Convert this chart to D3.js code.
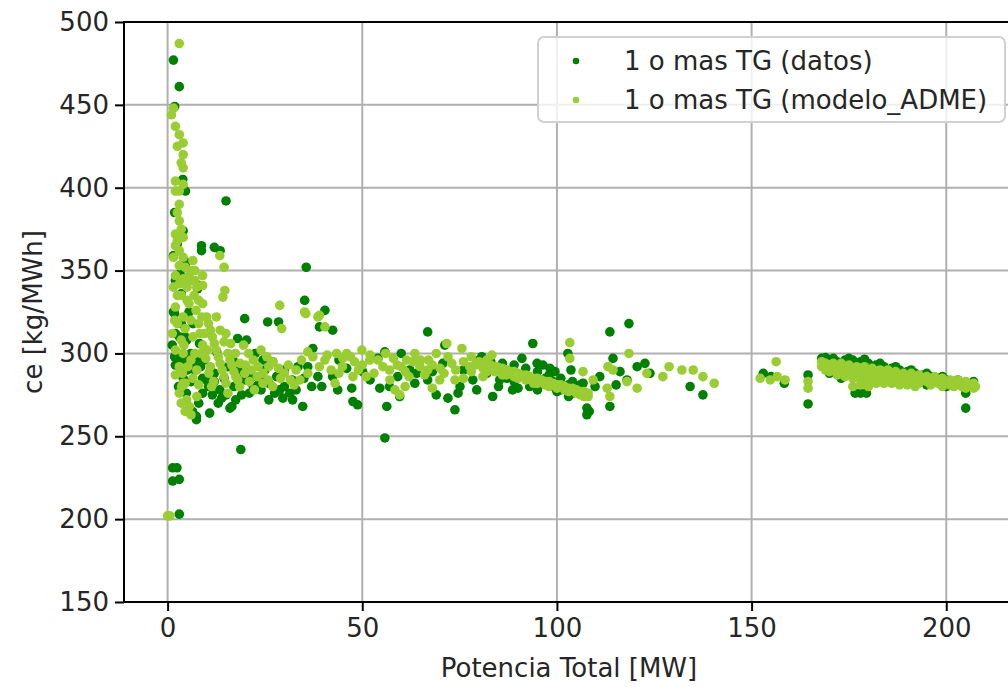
<!DOCTYPE html>
<html>
<head>
<meta charset="utf-8">
<script src="https://cdn.jsdelivr.net/npm/d3@7"></script>
<style>
  html, body { margin: 0; padding: 0; background: #fff; }
  svg { display: block; font-family: "DejaVu Sans", sans-serif; }
</style>
</head>
<body>
<svg id="chart" width="1008" height="687"></svg>
<script>
// Specific consumption vs. total power, gas turbines (1 or more units)
const xTicks = [0, 50, 100, 150, 200];
const yTicks = [150, 200, 250, 300, 350, 400, 450, 500];
const seriesNames = ["1 o mas TG (datos)", "1 o mas TG (modelo_ADME)"];
const seriesColors = ["#008000", "#9acd32"];

// measured points [MW, kg/MWh]
const datos = [
  [1.5,477],[3.0,461],[1.8,449],[3.9,405],[4.6,398],[1.8,385],[4.0,374],[2.5,366],[1.5,359],[4.3,356],
  [4.6,354],[2.0,344],[3.2,348],[5.0,343],[3.5,336],[1.5,325],[3.5,318],[2.0,312],[4.5,310],[1.2,305],
  [2.5,300],[3.0,296],[4.5,298],[2.0,293],[3.5,290],[4.0,285],[2.8,280],[4.8,276],[1.8,298],
  [1.3,231],[2.4,231],[1.3,223],[3.0,224],[3.0,203],
  [8.2,341],[8.7,365],[8.7,362],[12,364],[13.5,362],[15,392],[7.7,339],[19.8,321],[25.7,319],[28.5,319],
  [35.2,332],[35.6,352],[1.8,324],[4.6,296],[6.4,294],[5.5,298],[3.9,290],[9,276],[10,284],[13.4,278],
  [13.9,273],[16,267],[16.5,268],[10.8,264],[6.4,265],[7.4,262],[7.4,260],[21,276],[23.6,282],[21.9,286],
  [18.5,290],[16.8,296],[12.6,301],[8.2,306],[4.9,308],[18,309],[20.3,308],[28,286],[28.8,278],[29.6,273],
  [31.4,276],[32.1,272],[34.7,268],[18.8,242],[11,290],[12,288],[14.5,285],[15.5,292],[17,280],[19,275],
  [20,284],[24,278],[25,290],[26,272],[9.5,296],[7,290],[6,283],[8,270],[11.5,275],[22.5,300],
  [24.5,296],[27,295],[30,290],[32,284],[33.5,292],
  [5.5,325],[6.5,318],[3,310],[5,290],[6,300],[7.5,297],[8.5,292],[9,285],[10.5,280],[12,283],
  [13,270],[15,275],[17.5,272],[18,285],[20,290],[22,280],[24,285],[26,282],[27.5,276],[30,280],
  [33,278],[35,285],[36,292],
  [39,316],[40.4,326],[42.4,314],[37.3,303],[37,280],[38.6,286],[39.6,280],[42.4,286],[43.7,278],[47.3,279],
  [47.6,271],[48.8,269],[50.1,289],[54,297],[54.5,279],[55.8,301],[56.3,268],[55.8,249],[59.1,286],[59.6,274],
  [62.2,290],[63.5,282],[66.8,313],[66.8,284],[70.7,294],[71.2,305],[72,273],[73.8,266],[74.6,276],[75.1,280],
  [78.4,284],[79.4,278],[80.7,298],[83.5,274],[85.3,284],[87.1,285],[88.6,278],[91,297],[93,280],[93.8,306],
  [94.9,294],[96.4,293],[98.2,291],[99.5,289],
  [44,296],[46,291],[52,284],[57,280],[60,300],[64,288],[68,289],[69,275],[76,290],[82,288],
  [89,283],[92,286],[96,283],[99,280],[101,278],[103,274],
  [80,296],[83,295],[86,294],[89,293],[92,291],[95,289],[98,287],[101,285],[104,283],[106,281],
  [85,280],[90,279],[95,278],[100,277],[104,276],[107,275],[102.8,300],[103.6,290],[106.7,282],
  [82,290],[88,288],[93,285],[97,285],[99,283],[103,281],[105,279],
  [107.7,267],[107.7,263],[108.3,265],[109.8,280],[113.6,313],[118.5,318],[113.6,268],[114.4,297],[116.2,289],
  [120.6,292],[122.6,294],[123.9,288],[118,284],[115.2,281],[134.2,280],[137.5,275],[111,286],
  [153,288],[155,286],[158.4,282],[164.5,287],[164.5,269.5],
  [168,297],[170,296],[172,295],[174,296],[176,296],[178,295],[180,294],[182,293],[184,292],[186,291],
  [188,290],[190,289],[192,288],[194,287],[196,286],[198,285],[200,284],[202,283],[204,282],[206,281],
  [207,280],[170,288],[173,285],[176.6,276],[178,276],[179.5,276],[185,284],[190,283],[195,281],[200,280],
  [205,267],[205,276],[207,283],
  [169,297.5],[171,297],[175,297],[179,296.5],[183,294],[187,292],[191,290],[195,288],[199,286],[203,284]
];

// model points [MW, kg/MWh]
const modelo = [
  [3,487],[1.5,448],[1,444],[2,437],[3,432],[4,427],[4,420],[4,412],[2,404],[2,398],
  [4,402],[3,390],[3,380],[2,372],[4,370],[2.5,368],[3,362],[1.5,358],[3,353],[2,347],
  [4,345],[1.5,340],[3.5,335],[5,332],[2,328],[4,322],[2.5,318],[1.2,312],[3.5,308],[2,302],
  [4,300],[3,292],[2,287],[4,282],[3,276],[3.5,270],[4.5,265],[0,202],[0.6,202],
  [3.6,280],[4.9,272],[5.6,268],[6,263],[3.8,288],[4.5,282],
  [2.5,425],[3.5,415],[3,398],[2.5,385],[3.5,375],[2,365],[4,358],[3,342],[2.5,335],[1.8,320],[4.5,315],
  [5,340],[5.5,330],[6,320],[6.5,310],[7,300],[7.5,290],[8,281],
  [7,350],[7.5,340],[8,332],[8.8,322],[9.5,312],[10.2,302],[11,292],[11.8,283],
  [9,330],[10,322],[11,314],[12,306],[13,298],[14,290],[15,282],[15.5,276],
  [12.5,322],[13.5,314],[14.5,307],[15.5,300],[16.5,293],[17.5,286],[18.5,280],
  [15,312],[16.2,306],[17.4,300],[18.6,294],[19.8,288],[21,283],[22.3,278],
  [19.5,305],[20.8,300],[22,296],[23.2,292],[24.5,288],[25.8,284],[27,280],
  [24,302],[25.5,298],[27,295],[28.5,291],[30,288],[31.5,284],[32.5,281],
  [5.8,344],[6.8,335],[7.3,326],[8.3,312],[9,305],[9.8,297],[10.6,288],[11.3,280],[10.5,318],[11.5,310],
  [12.5,302],[13.5,294],[14.5,286],[16,296],[17,289],[18,284],[20,293],[21.5,290],[23,286],[24.5,282],
  [26,292],[29,285],[31,293],[33,290],[34,284],[8.5,300],[6.5,285],[7.5,274],[5.2,292],[4.2,305],
  [14.7,338],[14.2,334],[13.4,359],[14.5,352],[9,347],[9,341],[6,350],[6.5,356],[7,344],[5.5,347],
  [4.5,352],[8,318],[6,296],[28.8,329],[29.3,315],[35.2,325],[39,323],
  [35.5,324],[38.6,322],[40.4,316],[34.4,296],[37.3,298],[40.4,296],[43.4,300],[44.9,292],[47.6,286],[49.9,302],
  [51.9,296],[55.3,292],[57.1,284],[58.4,278],[59.6,275],[61.4,296],[63.5,300],[64.8,292],[66.8,290],[69.9,284],
  [71.7,306],[73,294],[73.8,284],[75.6,303],[77.6,292],[81,286],[83.3,299],[84.6,292],[87.1,290],
  [45,297],[48,295],[52,299],[58,297],[60,292],[65,296],[68,293],[72,298],[76,295],[78,289],
  [42,290],[46,300],[50,293],[53,288],[57,290],[62,286],[66,287],[70,291],
  [36,301],[39,292],[41,299],[44,288],[47,298],[49,290],[51,286],[54,296],[56,300],[59,293],
  [61,289],[63,295],[67,296],[69,300],[71,288],[74,290],[76,285],[79,293],[36,288],[43,282],
  [61,280],[68,279],[78,298],[82,296],
  [80,295],[81,294],[82,293],[83,293],[84,292],[85,291],[86,291],[87,290],[88,289],[89,289],
  [90,288],[91,287],[92,287],[93,286],[94,285],[95,285],[96,284],[97,283],[98,283],[99,282],
  [100,281],[101,281],[102,280],[103,279],[104,279],[105,278],[106,277],[107,277],[108,276],[108,274],
  [82,289],[86,287],[90,285],[94,282],[98,280],[102,278],[106,275],
  [81,291],[84,289],[87,287],[89,286],[92,284],[95,282],[97,281],[100,279],[103,277],[105,276],[107,274],
  [103.3,306.5],[103.3,297],[106.7,289],[109.3,284],[112.9,279],[113.6,274],[113.1,292],[114.4,290],[118,283],
  [118.5,300],[120.6,279],[123.1,288],[127.2,286],[128.8,292],[132.1,290],[135,290],[137.5,286],[140.4,282],
  [152.2,285],[154.8,284],[156.3,295],[156.6,286],[158.6,284],[164.5,283],[164.5,279],
  [168,295],[168,292],[169,290],[170,293],[171,291],[172,289],[173,292],[174,290],[175,288],[176,291],
  [177,289],[178,287],[179,290],[180,288],[181,286],[182,289],[183,287],[184,285],[185,288],[186,286],
  [187,284],[188,287],[189,285],[190,283],[191,286],[192,284],[193,282],[194,285],[195,283],[196,281],
  [197,284],[198,282],[199,280],[200,283],[201,281],[202,280],[203,282],[204,280],[205,279],[206,281],
  [207,279],[207.5,280],[178,281],[180,280],[176,280],[182,282],
  [169,294],[171,294],[173,294],[175,293],[177,292],[179,292],[181,291],[183,290],[185,290],[187,289],
  [189,288],[191,288],[193,287],[195,286],[197,286],[199,285],[201,284],[203,284],[205,283],[207,282],
  [170,289],[172,287],[174,286],[176,285],[178,284],[180,284],[182,283],[184,282],[186,282],[188,281],
  [190,281],[192,280]
];

const svg = d3.select("#chart");
const plotL = 124, plotR = 1014, plotT = 22, plotB = 602;

const x = d3.scaleLinear().domain([-11.2, 217.4]).range([plotL, plotR]);
const y = d3.scaleLinear().domain([150, 500]).range([plotB, plotT]);

const textColor = "#262626";

// grid
const grid = svg.append("g");
grid.selectAll("line.gx").data(xTicks).join("line")
  .attr("x1", d => x(d)).attr("x2", d => x(d))
  .attr("y1", plotT).attr("y2", plotB)
  .attr("stroke", "#b0b0b0").attr("stroke-width", 2);
grid.selectAll("line.gy").data(yTicks).join("line")
  .attr("x1", plotL).attr("x2", plotR)
  .attr("y1", d => y(d)).attr("y2", d => y(d))
  .attr("stroke", "#b0b0b0").attr("stroke-width", 2);

// points
const pts = svg.append("g");
[datos, modelo].forEach((s, i) => {
  pts.append("g").selectAll("circle").data(s).join("circle")
    .attr("cx", d => x(d[0])).attr("cy", d => y(d[1]))
    .attr("r", 4.8)
    .attr("fill", seriesColors[i]);
});

// axes
const xAxis = d3.axisBottom(x).tickValues(xTicks).tickSize(9).tickPadding(8).tickFormat(d3.format("d"));
const yAxis = d3.axisLeft(y).tickValues(yTicks).tickSize(9).tickPadding(6).tickFormat(d3.format("d"));

const gx = svg.append("g").attr("transform", `translate(0,${plotB})`).call(xAxis);
const gy = svg.append("g").attr("transform", `translate(${plotL},0)`).call(yAxis);
[gx, gy].forEach(g => {
  g.select(".domain").remove();
  g.selectAll(".tick line").attr("stroke", "#000").attr("stroke-width", 2);
  g.selectAll(".tick text").attr("fill", textColor).attr("font-size", 26)
    .attr("font-family", "DejaVu Sans");
});

// spines
svg.append("rect")
  .attr("x", plotL).attr("y", plotT)
  .attr("width", plotR - plotL).attr("height", plotB - plotT)
  .attr("fill", "none").attr("stroke", "#000").attr("stroke-width", 2);

// axis labels
svg.append("text")
  .attr("x", (plotL + plotR) / 2).attr("y", 677)
  .attr("text-anchor", "middle").attr("font-size", 26).attr("fill", textColor)
  .text("Potencia Total [MW]");
svg.append("text")
  .attr("transform", `translate(42,${(plotT + plotB) / 2}) rotate(-90)`)
  .attr("text-anchor", "middle").attr("font-size", 26).attr("fill", textColor)
  .text("ce [kg/MWh]");

// legend
const lg = svg.append("g");
lg.append("rect")
  .attr("x", 538).attr("y", 37).attr("width", 467).attr("height", 85).attr("rx", 6)
  .attr("fill", "#fff").attr("fill-opacity", 0.8)
  .attr("stroke", "#d0d0d0").attr("stroke-width", 2);
seriesNames.forEach((name, i) => {
  const cy = 61 + i * 39;
  lg.append("circle").attr("cx", 576).attr("cy", cy).attr("r", 3.3).attr("fill", seriesColors[i]);
  lg.append("text").attr("x", 624).attr("y", cy + 9)
    .attr("font-size", 26).attr("fill", textColor).text(name);
});
</script>
</body>
</html>
